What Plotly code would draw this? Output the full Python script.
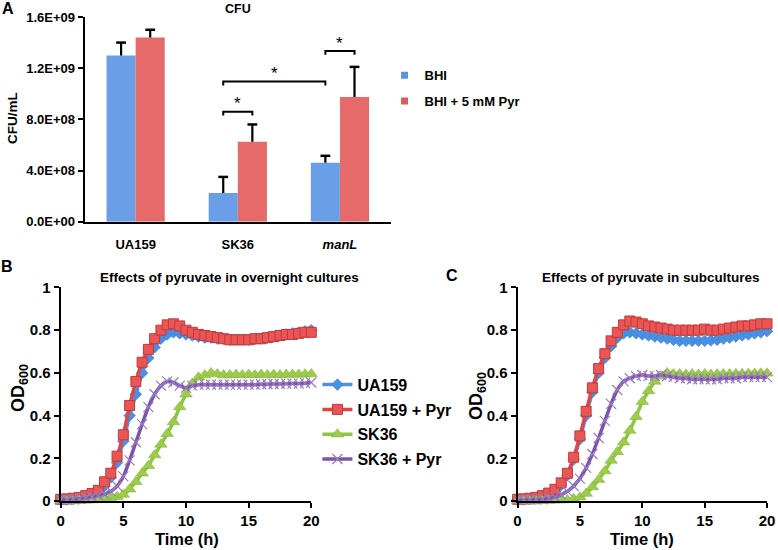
import plotly.graph_objects as go

# ---------------- Panel A data ----------------
strains = ["UA159", "SK36", "<i>manL</i>"]
cfu_bhi = [1.30e9, 0.225e9, 0.46e9]
cfu_bhi_err = [0.10e9, 0.125e9, 0.055e9]
cfu_pyr = [1.44e9, 0.625e9, 0.975e9]
cfu_pyr_err = [0.06e9, 0.135e9, 0.235e9]
cfu_tickvals = [0, 4e8, 8e8, 1.2e9, 1.6e9]
cfu_ticktext = ["0.0E+00", "4.0E+08", "8.0E+08", "1.2E+09", "1.6E+09"]

# significance brackets: (left category pos, right category pos, level, star level)
brk_left = [0.8575, 0.8575, 1.8575]
brk_right = [1.1425, 1.8575, 2.1425]
brk_level = [0.86e9, 1.095e9, 1.335e9]
star_level = [0.96e9, 1.195e9, 1.43e9]

# ---------------- Panels B / C data ----------------
time_h = [0, 0.5, 1, 1.5, 2, 2.5, 3, 3.5, 4, 4.5, 5, 5.5, 6, 6.5, 7, 7.5, 8, 8.5, 9, 9.5,
          10, 10.5, 11, 11.5, 12, 12.5, 13, 13.5, 14, 14.5, 15, 15.5, 16, 16.5, 17, 17.5,
          18, 18.5, 19, 19.5, 20]

ua159_b = [0.005, 0.007, 0.009, 0.012, 0.016, 0.024, 0.04, 0.07, 0.11, 0.18, 0.28, 0.40,
           0.50, 0.60, 0.67, 0.72, 0.76, 0.78, 0.79, 0.785, 0.78, 0.775, 0.77, 0.765, 0.765,
           0.76, 0.76, 0.755, 0.755, 0.755, 0.755, 0.758, 0.76, 0.765, 0.77, 0.775, 0.78,
           0.785, 0.79, 0.795, 0.80]
ua159pyr_b = [0.008, 0.01, 0.013, 0.017, 0.025, 0.035, 0.05, 0.09, 0.13, 0.21, 0.31, 0.447,
              0.56, 0.65, 0.71, 0.76, 0.80, 0.825, 0.83, 0.82, 0.80, 0.79, 0.78, 0.775, 0.77,
              0.765, 0.76, 0.755, 0.755, 0.755, 0.755, 0.76, 0.76, 0.765, 0.77, 0.775, 0.78,
              0.78, 0.785, 0.79, 0.79]
sk36_b = [0.0, 0.0, 0.0, 0.002, 0.003, 0.004, 0.006, 0.009, 0.014, 0.02, 0.03, 0.055, 0.09,
          0.13, 0.165, 0.215, 0.265, 0.315, 0.37, 0.44, 0.50, 0.55, 0.58, 0.59, 0.60, 0.595,
          0.59, 0.59, 0.592, 0.59, 0.592, 0.59, 0.592, 0.59, 0.592, 0.59, 0.592, 0.593, 0.593,
          0.594, 0.595]
sk36pyr_b = [0.005, 0.006, 0.008, 0.01, 0.014, 0.02, 0.025, 0.032, 0.045, 0.07, 0.115, 0.19,
             0.275, 0.36, 0.44, 0.50, 0.54, 0.56, 0.555, 0.54, 0.53, 0.54, 0.545, 0.545,
             0.545, 0.545, 0.545, 0.545, 0.545, 0.545, 0.545, 0.545, 0.547, 0.547, 0.548,
             0.548, 0.549, 0.55, 0.55, 0.552, 0.555]

ua159_c = [0.005, 0.007, 0.01, 0.013, 0.018, 0.026, 0.045, 0.075, 0.12, 0.195, 0.29, 0.40,
           0.51, 0.60, 0.67, 0.725, 0.765, 0.785, 0.79, 0.785, 0.78, 0.775, 0.77, 0.765, 0.76,
           0.755, 0.75, 0.75, 0.75, 0.75, 0.75, 0.752, 0.755, 0.76, 0.765, 0.77, 0.775, 0.78,
           0.785, 0.79, 0.795]
ua159pyr_c = [0.008, 0.01, 0.013, 0.017, 0.025, 0.037, 0.055, 0.085, 0.13, 0.205, 0.305,
              0.42, 0.53, 0.62, 0.69, 0.75, 0.79, 0.825, 0.843, 0.838, 0.83, 0.82, 0.815,
              0.81, 0.805, 0.80, 0.80, 0.80, 0.80, 0.80, 0.805, 0.80, 0.80, 0.805, 0.81,
              0.815, 0.82, 0.82, 0.825, 0.83, 0.83]
sk36_c = [0.0, 0.0, 0.0, 0.0, 0.001, 0.002, 0.003, 0.004, 0.005, 0.01, 0.018, 0.035, 0.065,
          0.10, 0.14, 0.19, 0.23, 0.275, 0.33, 0.395, 0.465, 0.515, 0.56, 0.585, 0.60, 0.595,
          0.595, 0.593, 0.595, 0.593, 0.595, 0.593, 0.595, 0.595, 0.595, 0.596, 0.596, 0.597,
          0.597, 0.598, 0.598]
sk36pyr_c = [0.004, 0.005, 0.006, 0.007, 0.008, 0.012, 0.018, 0.03, 0.045, 0.07, 0.105,
             0.155, 0.22, 0.295, 0.375, 0.455, 0.52, 0.56, 0.575, 0.585, 0.59, 0.585, 0.585,
             0.59, 0.585, 0.58, 0.575, 0.575, 0.57, 0.57, 0.57, 0.57, 0.57, 0.575, 0.575,
             0.575, 0.58, 0.58, 0.58, 0.58, 0.58]

series_names = ["UA159", "UA159 + Pyr", "SK36", "SK36 + Pyr"]
series_b = [ua159_b, ua159pyr_b, sk36_b, sk36pyr_b]
series_c = [ua159_c, ua159pyr_c, sk36_c, sk36pyr_c]

# ---------------- styles ----------------
FONT = "Liberation Sans, Arial, Helvetica, sans-serif"
BLUE_BAR = "#6a9fe8"
RED_BAR = "#e66a69"
line_colors = ["#4f8fdc", "#e04646", "#8dc63f", "#7d55a8"]
marker_styles = [
    dict(symbol="diamond", size=9, color="#4a90e2", line=dict(width=0.5, color="#3a78c8")),
    dict(symbol="square", size=10, color="#ea5555", line=dict(width=1, color="#c23a3a")),
    dict(symbol="triangle-up", size=11, color="#9ccc4a", line=dict(width=0.5, color="#80b13a")),
    dict(symbol="x-thin", size=10, color="#7d55a8", line=dict(width=1.2, color="#9a7cc4")),
]

fig = go.Figure()

# ---- Panel A bars ----
bargap = 0.43
off = (1 - bargap) / 4
idx = list(range(len(strains)))

fig.add_trace(go.Bar(x=idx, y=cfu_bhi, marker=dict(color=BLUE_BAR, line=dict(width=0)),
                     name="BHI", showlegend=False, xaxis="x", yaxis="y"))
fig.add_trace(go.Bar(x=idx, y=cfu_pyr, marker=dict(color=RED_BAR, line=dict(width=0)),
                     name="BHI + 5 mM Pyr", showlegend=False, xaxis="x", yaxis="y"))

for vals, errs, sgn in [(cfu_bhi, cfu_bhi_err, -1), (cfu_pyr, cfu_pyr_err, 1)]:
    fig.add_trace(go.Scatter(
        x=[i + sgn * off for i in idx], y=[v + e for v, e in zip(vals, errs)],
        mode="markers",
        marker=dict(symbol="line-ew", size=7, line=dict(width=2.5, color="black")),
        error_y=dict(type="data", symmetric=False, array=[0] * len(errs), arrayminus=errs,
                     width=0, thickness=2.2, color="black"),
        showlegend=False, hoverinfo="skip", xaxis="x", yaxis="y", cliponaxis=False))

# legend entries for panel A
fig.add_trace(go.Scatter(x=[None], y=[None], mode="markers", name="BHI",
                         marker=dict(symbol="square", size=7, color="#5b93e0"),
                         legend="legend", legendgroup="a1", xaxis="x", yaxis="y"))
fig.add_trace(go.Scatter(x=[None], y=[None], mode="markers", name="BHI + 5 mM Pyr",
                         marker=dict(symbol="square", size=7, color="#e05a5a"),
                         legend="legend", legendgroup="a2", xaxis="x", yaxis="y"))

# brackets and stars
shapes = []
annotations = []
for xl, xr, lv, sl in zip(brk_left, brk_right, brk_level, star_level):
    tick = 0.03e9
    shapes.append(dict(type="path", xref="x", yref="y",
                       path=f"M {xl},{lv - tick} L {xl},{lv} L {xr},{lv} L {xr},{lv - tick}",
                       line=dict(color="black", width=2)))
    annotations.append(dict(x=(xl + xr) / 2, y=sl, xref="x", yref="y", text="*",
                            showarrow=False, yshift=-5,
                            font=dict(family=FONT, size=17, color="black")))

# ---- Panels B and C ----
for k, (name, yb, yc) in enumerate(zip(series_names, series_b, series_c)):
    fig.add_trace(go.Scatter(x=time_h, y=yb, mode="lines+markers", name=name,
                             line=dict(color=line_colors[k], width=3.5, shape="spline", smoothing=0.6),
                             marker=marker_styles[k], legend="legend2", legendgroup=f"g{k}",
                             xaxis="x2", yaxis="y2", cliponaxis=False))
    fig.add_trace(go.Scatter(x=time_h, y=yc, mode="lines+markers", name=name,
                             line=dict(color=line_colors[k], width=3.5, shape="spline", smoothing=0.6),
                             marker=marker_styles[k], showlegend=False, legendgroup=f"g{k}",
                             xaxis="x3", yaxis="y3", cliponaxis=False))

axis_common = dict(showline=True, linecolor="black", linewidth=2, showgrid=False,
                   zeroline=False, ticks="outside", tickcolor="black", tickwidth=2,
                   ticklen=5, automargin=False)
tick_font_bc = dict(family=FONT, size=15, color="black", weight="bold")

fig.update_layout(
    width=778, height=550,
    margin=dict(l=0, r=0, t=0, b=0, autoexpand=False),
    paper_bgcolor="white", plot_bgcolor="white",
    font=dict(family=FONT, color="black"),
    barmode="group", bargap=bargap, bargroupgap=0,
    xaxis=dict(domain=[0.1087, 0.5026], range=[-0.5, 2.5], tickvals=idx, ticktext=strains,
               showline=True, linecolor="black", linewidth=2, showgrid=False, zeroline=False,
               ticks="", ticklabelstandoff=10, automargin=False,
               tickfont=dict(family=FONT, size=13, color="black", weight="bold")),
    yaxis=dict(domain=[0.5969, 0.9691], range=[0, 1.6e9], tickvals=cfu_tickvals,
               ticktext=cfu_ticktext, anchor="x",
               tickfont=dict(family=FONT, size=13, color="black", weight="bold"),
               **axis_common),
    xaxis2=dict(domain=[0.0780, 0.4001], range=[0, 20], tickvals=[0, 5, 10, 15, 20],
                anchor="y2", tickfont=tick_font_bc, **axis_common),
    yaxis2=dict(domain=[0.0891, 0.4773], range=[0, 1], tickvals=[0, 0.2, 0.4, 0.6, 0.8, 1],
                ticktext=["0", "0.2", "0.4", "0.6", "0.8", "1"],
                anchor="x2", tickfont=tick_font_bc, **axis_common),
    xaxis3=dict(domain=[0.6652, 0.9859], range=[0, 20], tickvals=[0, 5, 10, 15, 20],
                anchor="y3", tickfont=tick_font_bc, **axis_common),
    yaxis3=dict(domain=[0.0891, 0.4773], range=[0, 1], tickvals=[0, 0.2, 0.4, 0.6, 0.8, 1],
                ticktext=["0", "0.2", "0.4", "0.6", "0.8", "1"],
                anchor="x3", tickfont=tick_font_bc, **axis_common),
    legend=dict(x=0.4943, y=0.8905, xanchor="left", yanchor="top", bgcolor="rgba(0,0,0,0)",
                font=dict(family=FONT, size=13, color="black", weight="bold"),
                tracegroupgap=6, itemsizing="trace"),
    legend2=dict(x=0.408, y=0.3315, xanchor="left", yanchor="top", bgcolor="rgba(0,0,0,0)",
                 font=dict(family=FONT, size=16, color="black", weight="bold"),
                 tracegroupgap=1, itemsizing="trace"),
    showlegend=True,
)

def txt(x, y, s, size, angle=0, **kw):
    return dict(x=x / 778, y=1 - y / 550, xref="paper", yref="paper", text=s,
                showarrow=False, textangle=angle, xanchor="center", yanchor="middle",
                font=dict(family=FONT, size=size, color="black", weight="bold"), **kw)

annotations += [
    txt(8, 9, "A", 16),
    txt(7, 266, "B", 16),
    txt(452, 275, "C", 16),
    txt(238, 9, "CFU", 12.5),
    txt(12, 118, "CFU/mL", 13.5, angle=-90),
    txt(229, 277, "Effects of pyruvate in overnight cultures", 13.5),
    txt(651, 277, "Effects of pyruvate in subcultures", 13.5),
    txt(19, 388, "OD<sub>600</sub>", 18, angle=-90),
    txt(477, 396, "OD<sub>600</sub>", 18, angle=-90),
    txt(187, 539, "Time (h)", 16.5),
    txt(642, 539, "Time (h)", 16.5),
]

fig.update_layout(shapes=shapes, annotations=annotations)
fig.write_html("out.html", config={"displayModeBar": False},
               post_script="document.body.style.margin='0';document.body.style.overflow='hidden';")
